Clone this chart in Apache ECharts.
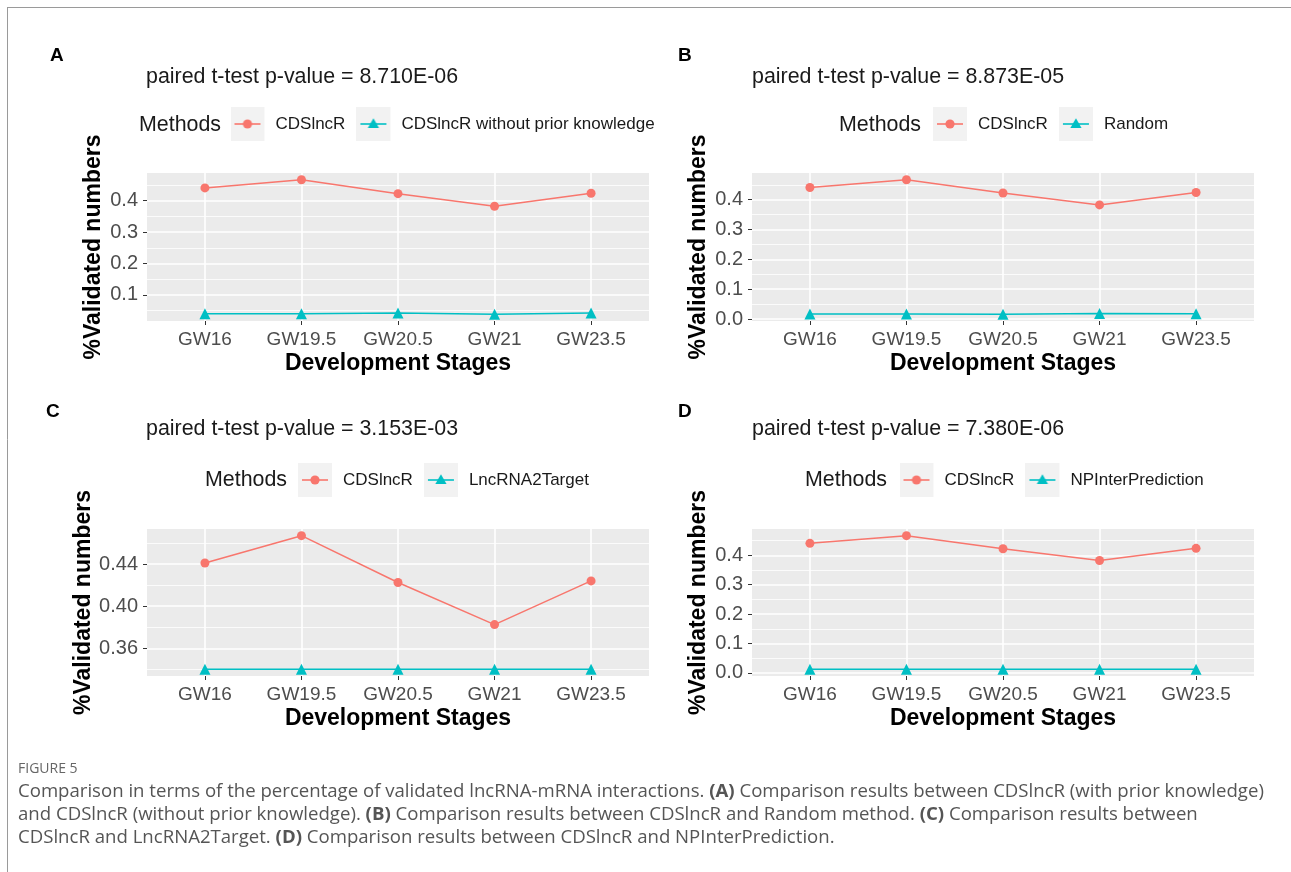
<!DOCTYPE html>
<html><head><meta charset="utf-8">
<script src="https://cdn.jsdelivr.net/npm/echarts@6/dist/echarts.min.js"></script>
<style>html,body{margin:0;padding:0;background:#fff}#c{width:1291px;height:872px}</style>
</head><body><div id="c"></div>
<script>
// ---------------- data ----------------
const stages = ['GW16', 'GW19.5', 'GW20.5', 'GW21', 'GW23.5'];
const cdslncr = [0.441, 0.467, 0.4225, 0.3825, 0.424];
const noPrior = [0.040, 0.040, 0.042, 0.038, 0.042];
const randomMethod = [0.017, 0.017, 0.016, 0.019, 0.018];
const lncrna2target = [0.340, 0.340, 0.340, 0.340, 0.340];
const npInterPrediction = [0.012, 0.012, 0.012, 0.012, 0.012];

const comparatorNames = ['CDSlncR without prior knowledge', 'Random', 'LncRNA2Target', 'NPInterPrediction'];
const pValues = ['8.710E-06', '8.873E-05', '3.153E-03', '7.380E-06'];
const panelLetters = ['A', 'B', 'C', 'D'];

const yTicksA = [0.1, 0.2, 0.3, 0.4];
const yMinorA = [0.05, 0.15, 0.25, 0.35, 0.45];
const yTicksB = [0.0, 0.1, 0.2, 0.3, 0.4];
const yMinorB = [0.05, 0.15, 0.25, 0.35, 0.45];
const yTicksC = [0.36, 0.40, 0.44];
const yMinorC = [0.34, 0.38, 0.42, 0.46];
const yTicksD = [0.0, 0.1, 0.2, 0.3, 0.4];
const yMinorD = [0.05, 0.15, 0.25, 0.35, 0.45];

const captionHead = 'FIGURE 5';
const captionLines = [
  'Comparison in terms of the percentage of validated lncRNA-mRNA interactions. {b|(A)} Comparison results between CDSlncR (with prior knowledge)',
  'and CDSlncR (without prior knowledge). {b|(B)} Comparison results between CDSlncR and Random method. {b|(C)} Comparison results between',
  'CDSlncR and LncRNA2Target. {b|(D)} Comparison results between CDSlncR and NPInterPrediction.'
];

// ---------------- style / layout ----------------
const FONT = '"Liberation Sans", Arial, Helvetica, sans-serif';
const CAPFONT = '"Open Sans", "Noto Sans", sans-serif';
const RED = '#F8766D', TEAL = '#00BFC4';

const comparatorValues = [noPrior, randomMethod, lncrna2target, npInterPrediction];
const tickSets = [yTicksA, yTicksB, yTicksC, yTicksD];
const minorSets = [yMinorA, yMinorB, yMinorC, yMinorD];
const decimals = [1, 1, 2, 1];

const layout = [
  {grid: {left: 147, top: 173, width: 502, height: 148}, letter: [50, 46], title: [146, 67], methods: [139, 115], legend: [230.5, 107]},
  {grid: {left: 752, top: 173, width: 502, height: 148}, letter: [678, 46], title: [752, 67], methods: [839, 115], legend: [933, 107]},
  {grid: {left: 147, top: 529, width: 502, height: 147}, letter: [46, 402], title: [146, 419], methods: [205, 470], legend: [298, 463]},
  {grid: {left: 752, top: 529, width: 502, height: 147}, letter: [678, 402], title: [752, 419], methods: [805, 470], legend: [899.5, 463]}
];

function keyIcon(color, shape) {
  const c = document.createElement('canvas');
  c.width = 40; c.height = 34;
  const g = c.getContext('2d');
  g.fillStyle = '#F2F2F2'; g.fillRect(0, 0, 34, 34);
  g.strokeStyle = color; g.lineWidth = 1.6;
  g.beginPath(); g.moveTo(4, 17); g.lineTo(30, 17); g.stroke();
  g.fillStyle = color;
  g.beginPath();
  if (shape === 'circle') { g.arc(17, 17, 4.6, 0, Math.PI * 2); }
  else { g.moveTo(17, 11.2); g.lineTo(22.6, 21); g.lineTo(11.4, 21); g.closePath(); }
  g.fill();
  return 'image://' + c.toDataURL();
}
const iconRed = keyIcon(RED, 'circle');
const iconTeal = keyIcon(TEAL, 'triangle');

const grids = [], xAxes = [], yAxes = [], series = [], legends = [], titles = [];
const xIdx = stages.map((_, k) => k);

for (let i = 0; i < 4; i++) {
  const L = layout[i];
  const other = comparatorValues[i];
  const all = cdslncr.concat(other);
  const lo = Math.min(...all), hi = Math.max(...all);
  const pad = (hi - lo) * 0.05;
  grids.push(Object.assign({show: true, backgroundColor: '#EBEBEB', borderWidth: 0}, L.grid));
  xAxes.push({
    gridIndex: i, type: 'value', position: 'bottom', min: -0.6, max: stages.length - 0.4,
    axisLine: {show: false, onZero: false},
    axisTick: {show: true, length: 4, customValues: xIdx, lineStyle: {color: '#333', width: 1}},
    axisLabel: {customValues: xIdx, formatter: v => stages[Math.round(v)], fontSize: 19, color: '#4D4D4D', margin: 9, fontFamily: FONT},
    splitLine: {show: true, lineStyle: {color: '#FFFFFF', width: 1.6}},
    name: 'Development Stages', nameLocation: 'middle', nameGap: 31,
    nameTextStyle: {fontSize: 23, fontWeight: 'bold', color: '#000', fontFamily: FONT}
  });
  const d = decimals[i];
  yAxes.push({
    gridIndex: i, type: 'value', position: 'left', min: lo - pad, max: hi + pad,
    axisLine: {show: false, onZero: false},
    axisTick: {show: true, length: 4, customValues: tickSets[i], lineStyle: {color: '#333', width: 1}},
    axisLabel: {customValues: tickSets[i], formatter: v => v.toFixed(d), fontSize: 20, color: '#4D4D4D', margin: 9, fontFamily: FONT},
    splitLine: {show: true, lineStyle: {color: '#FFFFFF', width: 1.6}},
    name: '%Validated numbers', nameLocation: 'middle', nameGap: 42,
    nameTextStyle: {fontSize: 23, fontWeight: 'bold', color: '#000', fontFamily: FONT}
  });
  yAxes.push({
    gridIndex: i, type: 'value', position: 'left', min: lo - pad, max: hi + pad,
    axisLine: {show: false, onZero: false},
    axisTick: {show: false, customValues: minorSets[i]},
    axisLabel: {show: false},
    splitLine: {show: true, lineStyle: {color: '#FFFFFF', width: 0.8}}
  });
  series.push({
    type: 'line', name: 'CDSlncR', xAxisIndex: i, yAxisIndex: 2 * i,
    data: cdslncr.map((v, k) => [k, v]),
    symbol: 'circle', symbolSize: 9, itemStyle: {color: RED}, lineStyle: {color: RED, width: 1.5},
    emphasis: {disabled: true}, animation: false, z: 3
  });
  series.push({
    type: 'line', name: comparatorNames[i], xAxisIndex: i, yAxisIndex: 2 * i,
    data: other.map((v, k) => [k, v]),
    symbol: 'triangle', symbolSize: 11, itemStyle: {color: TEAL}, lineStyle: {color: TEAL, width: 1.5},
    emphasis: {disabled: true}, animation: false, z: 3
  });
  legends.push({
    left: L.legend[0], top: L.legend[1], orient: 'horizontal', padding: 0,
    itemWidth: 40, itemHeight: 34, itemGap: 11, selectedMode: false,
    data: [{name: 'CDSlncR', icon: iconRed}, {name: comparatorNames[i], icon: iconTeal}],
    textStyle: {fontSize: 17, color: '#1A1A1A', fontFamily: FONT}
  });
  titles.push({left: L.letter[0], top: L.letter[1], padding: 0, text: panelLetters[i],
    textStyle: {fontSize: 19, fontWeight: 'bold', color: '#000', fontFamily: FONT}});
  titles.push({left: L.title[0], top: L.title[1], padding: 0, text: 'paired t-test p-value = ' + pValues[i],
    textStyle: {fontSize: 21.4, fontWeight: 'normal', color: '#1A1A1A', fontFamily: FONT}});
  titles.push({left: L.methods[0], top: L.methods[1], padding: 0, text: 'Methods',
    textStyle: {fontSize: 21.4, fontWeight: 'normal', color: '#1A1A1A', fontFamily: FONT}});
}

// caption
titles.push({left: 18, top: 762, padding: 0, text: captionHead,
  textStyle: {fontSize: 14, fontWeight: 'normal', color: '#666', fontFamily: CAPFONT}});
const capTops = [782, 805, 828];
captionLines.forEach((t, k) => {
  titles.push({left: 18, top: capTops[k], padding: 0, text: t,
    textStyle: {fontSize: 18.6, fontWeight: 'normal', color: '#555', fontFamily: CAPFONT,
      rich: {b: {fontSize: 18.6, fontWeight: 'bold', color: '#555', fontFamily: CAPFONT}}}});
});

const chart = echarts.init(document.getElementById('c'), null, {renderer: 'canvas'});
chart.setOption({
  animation: false,
  backgroundColor: '#FFFFFF',
  title: titles,
  legend: legends,
  grid: grids,
  xAxis: xAxes,
  yAxis: yAxes,
  series: series,
  graphic: [
    {type: 'line', shape: {x1: 7, y1: 7.5, x2: 1291, y2: 7.5}, style: {stroke: '#9A9A9A', lineWidth: 1}, silent: true},
    {type: 'line', shape: {x1: 7.5, y1: 7, x2: 7.5, y2: 872}, style: {stroke: '#9A9A9A', lineWidth: 1}, silent: true}
  ]
});
</script>
</body></html>
